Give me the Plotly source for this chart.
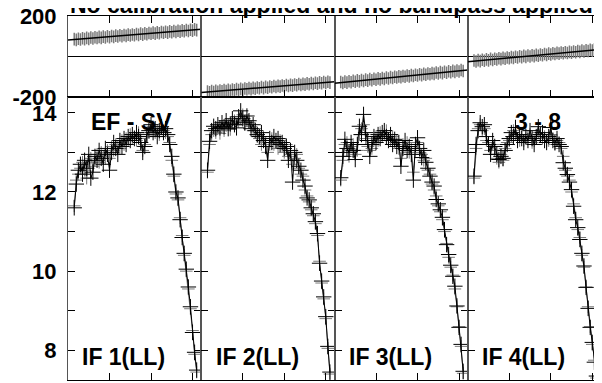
import plotly.graph_objects as go
from plotly.subplots import make_subplots

# channel numbers shown in each IF
channels = list(range(3, 63))
if_labels = ['IF 1(LL)', 'IF 2(LL)', 'IF 3(LL)', 'IF 4(LL)']

# phase per channel (degrees)
phase_if1 = [86, 82, 88, 84, 90, 86, 92, 87, 94, 89, 95, 91, 97, 92, 98, 94, 100, 95, 101, 97,
             103, 99, 105, 100, 106, 102, 108, 104, 109, 105, 111, 107, 113, 108, 114, 110, 116, 112, 118, 113,
             119, 115, 121, 117, 122, 118, 124, 120, 126, 121, 127, 123, 129, 125, 131, 126, 132, 128, 134, 130]
phase_if2 = [-173, -177, -171, -175, -169, -174, -168, -172, -166, -171, -164, -169, -163, -167, -161, -166, -160, -164, -158, -162,
             -156, -161, -155, -159, -153, -157, -151, -156, -150, -154, -148, -152, -146, -151, -145, -149, -143, -147, -141, -146,
             -140, -144, -138, -142, -136, -141, -135, -139, -133, -137, -131, -136, -130, -134, -128, -132, -126, -131, -125, -129]
phase_if3 = [-126, -131, -124, -129, -122, -127, -120, -125, -118, -123, -116, -121, -114, -119, -112, -117, -110, -115, -108, -113,
             -106, -111, -104, -109, -102, -106, -100, -104, -98, -102, -96, -100, -94, -98, -92, -96, -90, -94, -88, -92,
             -86, -90, -84, -88, -82, -86, -79, -84, -77, -82, -75, -80, -73, -78, -71, -76, -69, -74, -67, -72]
phase_if4 = [-20, -25, -18, -23, -16, -21, -14, -19, -12, -17, -11, -15, -9, -13, -7, -11, -5, -9, -3, -7,
             -1, -5, 1, -3, 3, -2, 5, 0, 6, 2, 8, 4, 10, 6, 12, 8, 14, 10, 16, 12,
             18, 14, 20, 16, 21, 17, 23, 19, 25, 21, 27, 23, 29, 25, 31, 27, 33, 29, 34, 31]

# fitted phase line across each IF
fit_chan = [0, 64.2]
fit_if1 = [81.5, 134]
fit_if2 = [-178, -124.5]
fit_if3 = [-132, -66.7]
fit_if4 = [-25.7, 35.6]

# amplitude per channel, black and grey series
amp_black_if1 = [11.60, 12.20, 12.55, 12.70, 12.45, 12.80, 12.60, 12.95, 12.35, 12.50, 12.90, 12.80, 13.05, 12.85, 12.70, 13.10, 12.95, 12.55, 13.00, 13.25,
                 13.10, 12.95, 13.30, 13.15, 13.35, 13.20, 13.40, 13.30, 13.45, 13.35, 13.50, 13.40, 13.25, 13.00, 13.15, 13.45, 13.55, 13.70, 13.50, 13.60,
                 13.40, 13.55, 13.65, 13.50, 13.60, 13.45, 13.20, 12.90, 12.45, 12.00, 11.85, 11.30, 10.85, 10.45, 10.05, 9.60, 9.10, 8.45, 7.95, 7.50]
amp_gray_if1 = [11.65, 12.30, 12.45, 12.60, 12.75, 12.55, 12.35, 12.75, 12.85, 12.65, 12.80, 12.95, 12.75, 13.00, 12.90, 12.85, 13.05, 12.85, 13.15, 13.05,
                13.20, 13.15, 13.10, 13.30, 13.20, 13.35, 13.30, 13.45, 13.35, 13.40, 13.30, 13.50, 13.35, 13.05, 13.20, 13.40, 13.50, 13.55, 13.65, 13.50,
                13.55, 13.45, 13.60, 13.55, 13.50, 13.40, 13.25, 12.80, 12.40, 11.95, 11.80, 11.35, 10.90, 10.40, 10.00, 9.55, 9.05, 8.50, 7.90, 7.45]
amp_black_if2 = [12.55, 13.28, 13.55, 13.66, 13.60, 13.70, 13.62, 13.75, 13.65, 13.80, 13.60, 13.72, 13.85, 13.70, 13.62, 13.90, 14.05, 13.85, 13.75, 13.92,
                 13.80, 13.60, 13.70, 13.55, 13.45, 13.40, 13.50, 13.30, 13.15, 12.80, 13.35, 13.25, 13.40, 13.30, 13.35, 13.20, 13.25, 13.10, 13.15, 12.80,
                 13.05, 12.25, 13.00, 12.80, 12.65, 12.55, 12.30, 12.15, 11.85, 11.80, 11.60, 11.45, 11.25, 10.95, 10.20, 9.75, 9.35, 8.85, 8.10, 7.45]
amp_gray_if2 = [12.50, 13.20, 13.45, 13.55, 13.50, 13.60, 13.48, 13.65, 13.55, 13.68, 13.70, 13.58, 13.75, 13.80, 13.70, 13.78, 13.85, 13.95, 13.70, 13.80,
                13.75, 13.65, 13.55, 13.60, 13.40, 13.35, 13.20, 13.40, 13.25, 13.00, 13.20, 13.35, 13.20, 13.25, 13.10, 13.30, 13.15, 13.00, 13.20, 12.90,
                12.95, 12.70, 12.85, 12.95, 12.60, 12.45, 12.40, 12.05, 11.90, 11.75, 11.55, 11.40, 11.20, 10.90, 10.25, 9.70, 9.30, 8.80, 8.05, 7.40]
amp_black_if3 = [12.36, 12.90, 13.33, 13.10, 13.00, 13.25, 13.05, 12.82, 13.20, 13.66, 13.45, 13.96, 13.50, 13.30, 12.90, 13.20, 13.40, 13.25, 13.45, 13.35,
                 13.50, 13.55, 13.40, 13.30, 13.45, 13.20, 13.33, 13.15, 13.25, 12.65, 13.10, 13.30, 13.05, 13.15, 12.95, 12.30, 13.20, 13.37, 13.10, 12.87,
                 13.05, 12.75, 12.60, 12.40, 12.25, 12.15, 11.81, 11.70, 11.55, 11.36, 11.05, 10.67, 10.42, 10.15, 9.87, 9.62, 9.12, 8.58, 8.15, 7.47]
amp_gray_if3 = [12.30, 12.80, 13.20, 13.25, 12.90, 13.15, 13.20, 12.95, 13.05, 13.45, 13.60, 13.70, 13.35, 13.15, 13.05, 13.10, 13.30, 13.40, 13.30, 13.50,
                13.40, 13.45, 13.55, 13.35, 13.30, 13.40, 13.25, 13.30, 13.10, 12.85, 13.20, 13.15, 13.25, 13.00, 13.10, 12.50, 13.05, 13.25, 13.00, 12.95,
                12.80, 12.85, 12.55, 12.45, 12.20, 12.05, 11.90, 11.65, 11.50, 11.30, 11.00, 10.70, 10.35, 10.10, 9.90, 9.55, 9.10, 8.60, 8.10, 7.42]
amp_black_if4 = [12.40, 13.20, 13.55, 13.75, 13.65, 13.70, 13.40, 13.20, 12.95, 13.30, 13.15, 12.95, 12.82, 12.90, 12.85, 13.05, 13.20, 13.35, 13.50, 13.40,
                 13.63, 13.30, 13.45, 13.35, 13.25, 13.40, 13.30, 13.55, 13.35, 13.20, 13.40, 13.65, 13.45, 13.50, 13.30, 13.25, 13.40, 13.63, 13.30, 13.25,
                 13.35, 13.20, 13.15, 12.74, 12.60, 12.44, 12.25, 12.06, 11.64, 11.30, 11.10, 10.80, 10.45, 10.13, 9.59, 9.06, 8.58, 8.20, 7.70, 7.35]
amp_gray_if4 = [12.35, 13.10, 13.60, 13.70, 13.55, 13.60, 13.30, 13.25, 13.05, 13.20, 13.05, 12.85, 12.75, 12.95, 12.80, 13.10, 13.25, 13.30, 13.40, 13.55,
                13.45, 13.35, 13.30, 13.45, 13.30, 13.35, 13.40, 13.45, 13.25, 13.30, 13.35, 13.50, 13.40, 13.35, 13.40, 13.30, 13.30, 13.45, 13.35, 13.20,
                13.30, 13.25, 13.10, 12.90, 12.55, 12.40, 12.30, 12.00, 11.70, 11.35, 11.05, 10.85, 10.40, 10.10, 9.60, 9.10, 8.60, 8.15, 7.75, 7.30]

phases = [phase_if1, phase_if2, phase_if3, phase_if4]
fits = [fit_if1, fit_if2, fit_if3, fit_if4]
amps_black = [amp_black_if1, amp_black_if2, amp_black_if3, amp_black_if4]
amps_gray = [amp_gray_if1, amp_gray_if2, amp_gray_if3, amp_gray_if4]

FONT = 'Liberation Sans, Arial, sans-serif'
GREY = '#7a7a7a'

fig = make_subplots(rows=2, cols=4, horizontal_spacing=0, vertical_spacing=0,
                    row_heights=[0.2225, 0.7775])

for i in range(4):
    col = i + 1
    # phase panel
    fig.add_trace(go.Scatter(x=channels, y=phases[i], mode='markers',
                             marker=dict(symbol='line-ns', size=9, line=dict(color=GREY, width=1.5)),
                             showlegend=False), row=1, col=col)
    fig.add_trace(go.Scatter(x=fit_chan, y=fits[i], mode='lines',
                             line=dict(color='black', width=1.5), showlegend=False), row=1, col=col)
    # amplitude panel
    fig.add_trace(go.Scatter(x=channels, y=amps_gray[i], mode='lines+markers',
                             line=dict(color=GREY, width=1),
                             marker=dict(symbol='cross-thin', size=9, line=dict(color=GREY, width=1)),
                             showlegend=False), row=2, col=col)
    fig.add_trace(go.Scatter(x=channels, y=amps_black[i], mode='lines+markers',
                             line=dict(color='black', width=1),
                             marker=dict(symbol='cross-thin', size=11, line=dict(color='black', width=1)),
                             showlegend=False), row=2, col=col)

    fig.update_xaxes(range=[0, 64.2], tickvals=[20, 40, 60], ticks='inside', ticklen=7,
                     tickcolor='black', showticklabels=False, showgrid=False, zeroline=False,
                     showline=True, linecolor='black', linewidth=1, mirror='ticks',
                     automargin=False, row=1, col=col)
    fig.update_xaxes(range=[0, 64.2], tickvals=[20, 40, 60], ticks='inside', ticklen=7,
                     tickcolor='black', showticklabels=False, showgrid=False, zeroline=False,
                     showline=True, linecolor='black', linewidth=1, mirror=True,
                     automargin=False, row=2, col=col)
    fig.update_yaxes(range=[-200, 200], tickvals=[-200, 200], ticktext=['-200', '200'],
                     ticks='', showticklabels=(col == 1), showgrid=False,
                     zeroline=True, zerolinecolor='black', zerolinewidth=1,
                     showline=True, linecolor='#555555', linewidth=1, mirror=True,
                     ticklabelstandoff=6, automargin=False, ticklabeloverflow='allow',
                     tickfont=dict(family=FONT, size=22, color='black', weight='bold'),
                     row=1, col=col)
    fig.update_yaxes(range=[7.25, 14.4], tickvals=[8, 9, 10, 11, 12, 13, 14],
                     ticktext=['8', '', '10', '', '12', '', '14'],
                     ticks='inside', ticklen=7, tickcolor='black',
                     showticklabels=(col == 1), showgrid=False, zeroline=False,
                     showline=True, linecolor='#555555', linewidth=1, mirror='ticks',
                     ticklabelstandoff=6, automargin=False, ticklabeloverflow='allow',
                     tickfont=dict(family=FONT, size=22, color='black', weight='bold'),
                     row=2, col=col)

    fig.add_annotation(text=if_labels[i], x=6.0, y=7.82, xref=f'x{col + 4}', yref=f'y{col + 4}',
                       xanchor='left', yanchor='middle', showarrow=False,
                       font=dict(family=FONT, size=23, color='black', weight='bold'))

fig.add_annotation(text='EF - SV', x=30.8, y=13.78, xref='x5', yref='y5',
                   xanchor='center', yanchor='middle', showarrow=False,
                   font=dict(family=FONT, size=23, color='black', weight='bold'))
fig.add_annotation(text='3 - 8', x=34, y=13.76, xref='x8', yref='y8',
                   xanchor='center', yanchor='middle', showarrow=False,
                   font=dict(family=FONT, size=23, color='black', weight='bold'))
fig.add_annotation(text='No calibration applied and no bandpass applied', x=0, y=1,
                   xref='paper', yref='paper', xanchor='left', yanchor='bottom',
                   yshift=-4, showarrow=False,
                   font=dict(family=FONT, size=23, color='black', weight='bold'))

# the page body adds an 8px offset, so margins are trimmed to land the plot where the reference has it
fig.update_layout(width=602, height=383, margin=dict(l=60, r=9, t=8, b=11),
                  paper_bgcolor='white', plot_bgcolor='white')

fig.write_html('out.html')
